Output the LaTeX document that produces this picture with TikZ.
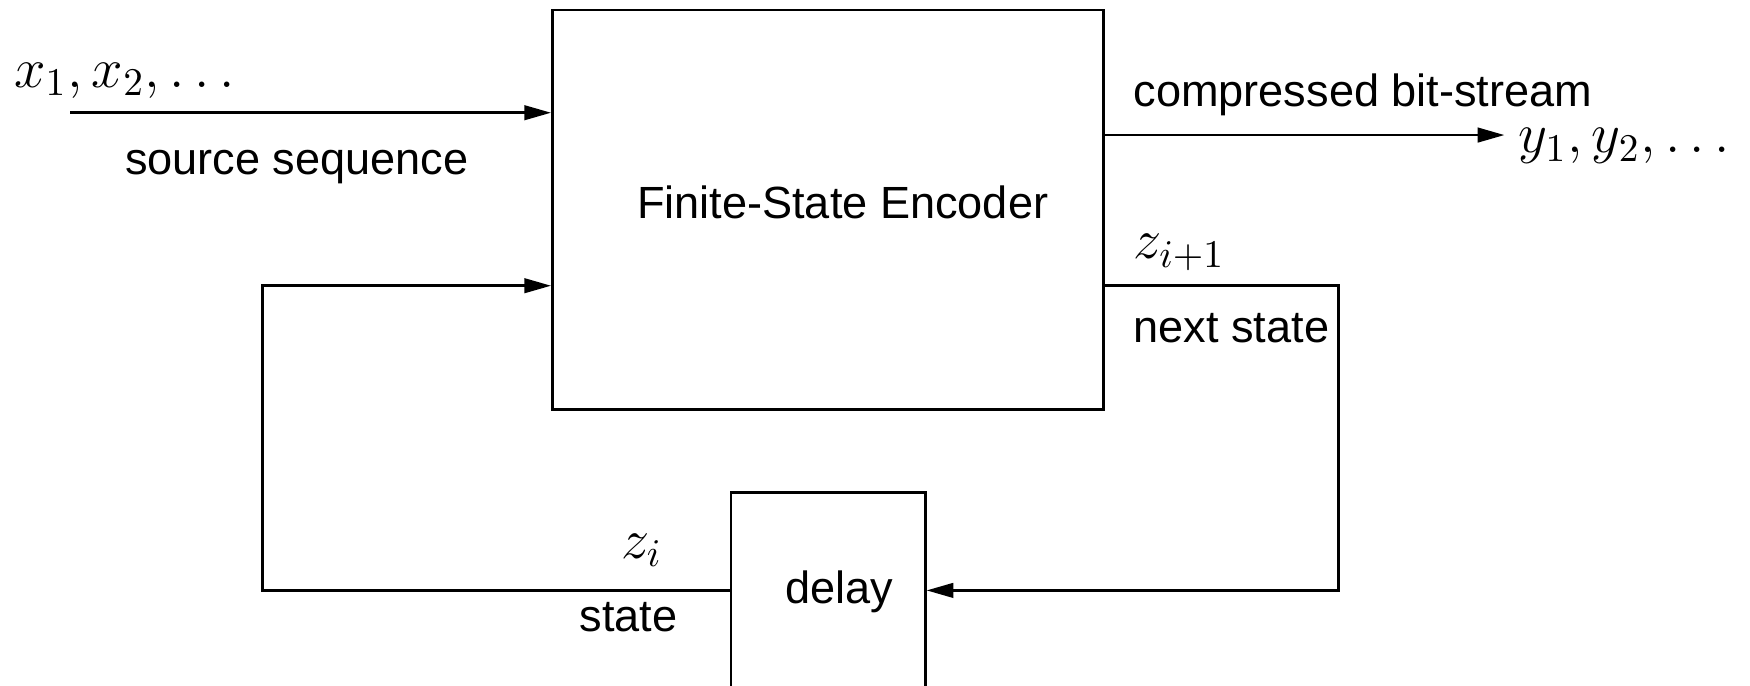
\documentclass[tikz,border=0pt]{standalone}
\usepackage{fontspec}
\setmainfont{Liberation Sans}
\usetikzlibrary{arrows.meta}
\tikzset{
  block/.style={draw, line width=0.7pt, inner sep=0pt},
  sig/.style={line width=0.7pt, -{Triangle[length=2.4mm,width=1.3mm]}},
  lbl/.style={inner sep=0pt, font=\fontsize{11.5}{14}\selectfont},
  mlbl/.style={inner sep=0pt, font=\fontsize{14.2}{17}\selectfont}
}
\begin{document}
\begin{tikzpicture}[x=0.1mm, y=-0.1mm]
\useasboundingbox (0,0) rectangle (1568,614);
\node[block, lbl, minimum width=4.94cm, minimum height=3.58cm] (enc) at (742,188) {};
\node[lbl] (enctxt) at (755,181) {Finite-State Encoder};
\node[block, minimum width=1.74cm, minimum height=1.76cm] (dly) at (742,529) {};
\node[lbl] (dlytxt) at (752,530) {delay};
\coordinate (in) at (63,101);
\coordinate (out) at (1348,121);
\coordinate (fbl) at (235,256);
\coordinate (fbr) at (1199,256);
\draw[sig] (in) -- (in -| enc.west);
\draw[sig] (enc.east |- out) -- (out);
\draw[sig] (dly.west) -| (fbl) -- (fbl -| enc.west);
\draw[sig] (enc.east |- fbr) -- (fbr) |- (dly.east);
\node[mlbl, anchor=west] (xs) at (12,72) {$x_1,x_2,\ldots$};
\node[lbl] (src) at (266,150) {source sequence};
\node[lbl, anchor=west] (bits) at (1015,85) {compressed bit-stream};
\node[mlbl, anchor=west] (ys) at (1360,131) {$y_1,y_2,\ldots$};
\node[mlbl, anchor=west] (znext) at (1015,226) {$z_{i+1}$};
\node[lbl, anchor=west] (nxt) at (1015,294) {next state};
\node[mlbl] (zi) at (575,493) {$z_i$};
\node[lbl] (st) at (563,553) {state};
\end{tikzpicture}
\end{document}
